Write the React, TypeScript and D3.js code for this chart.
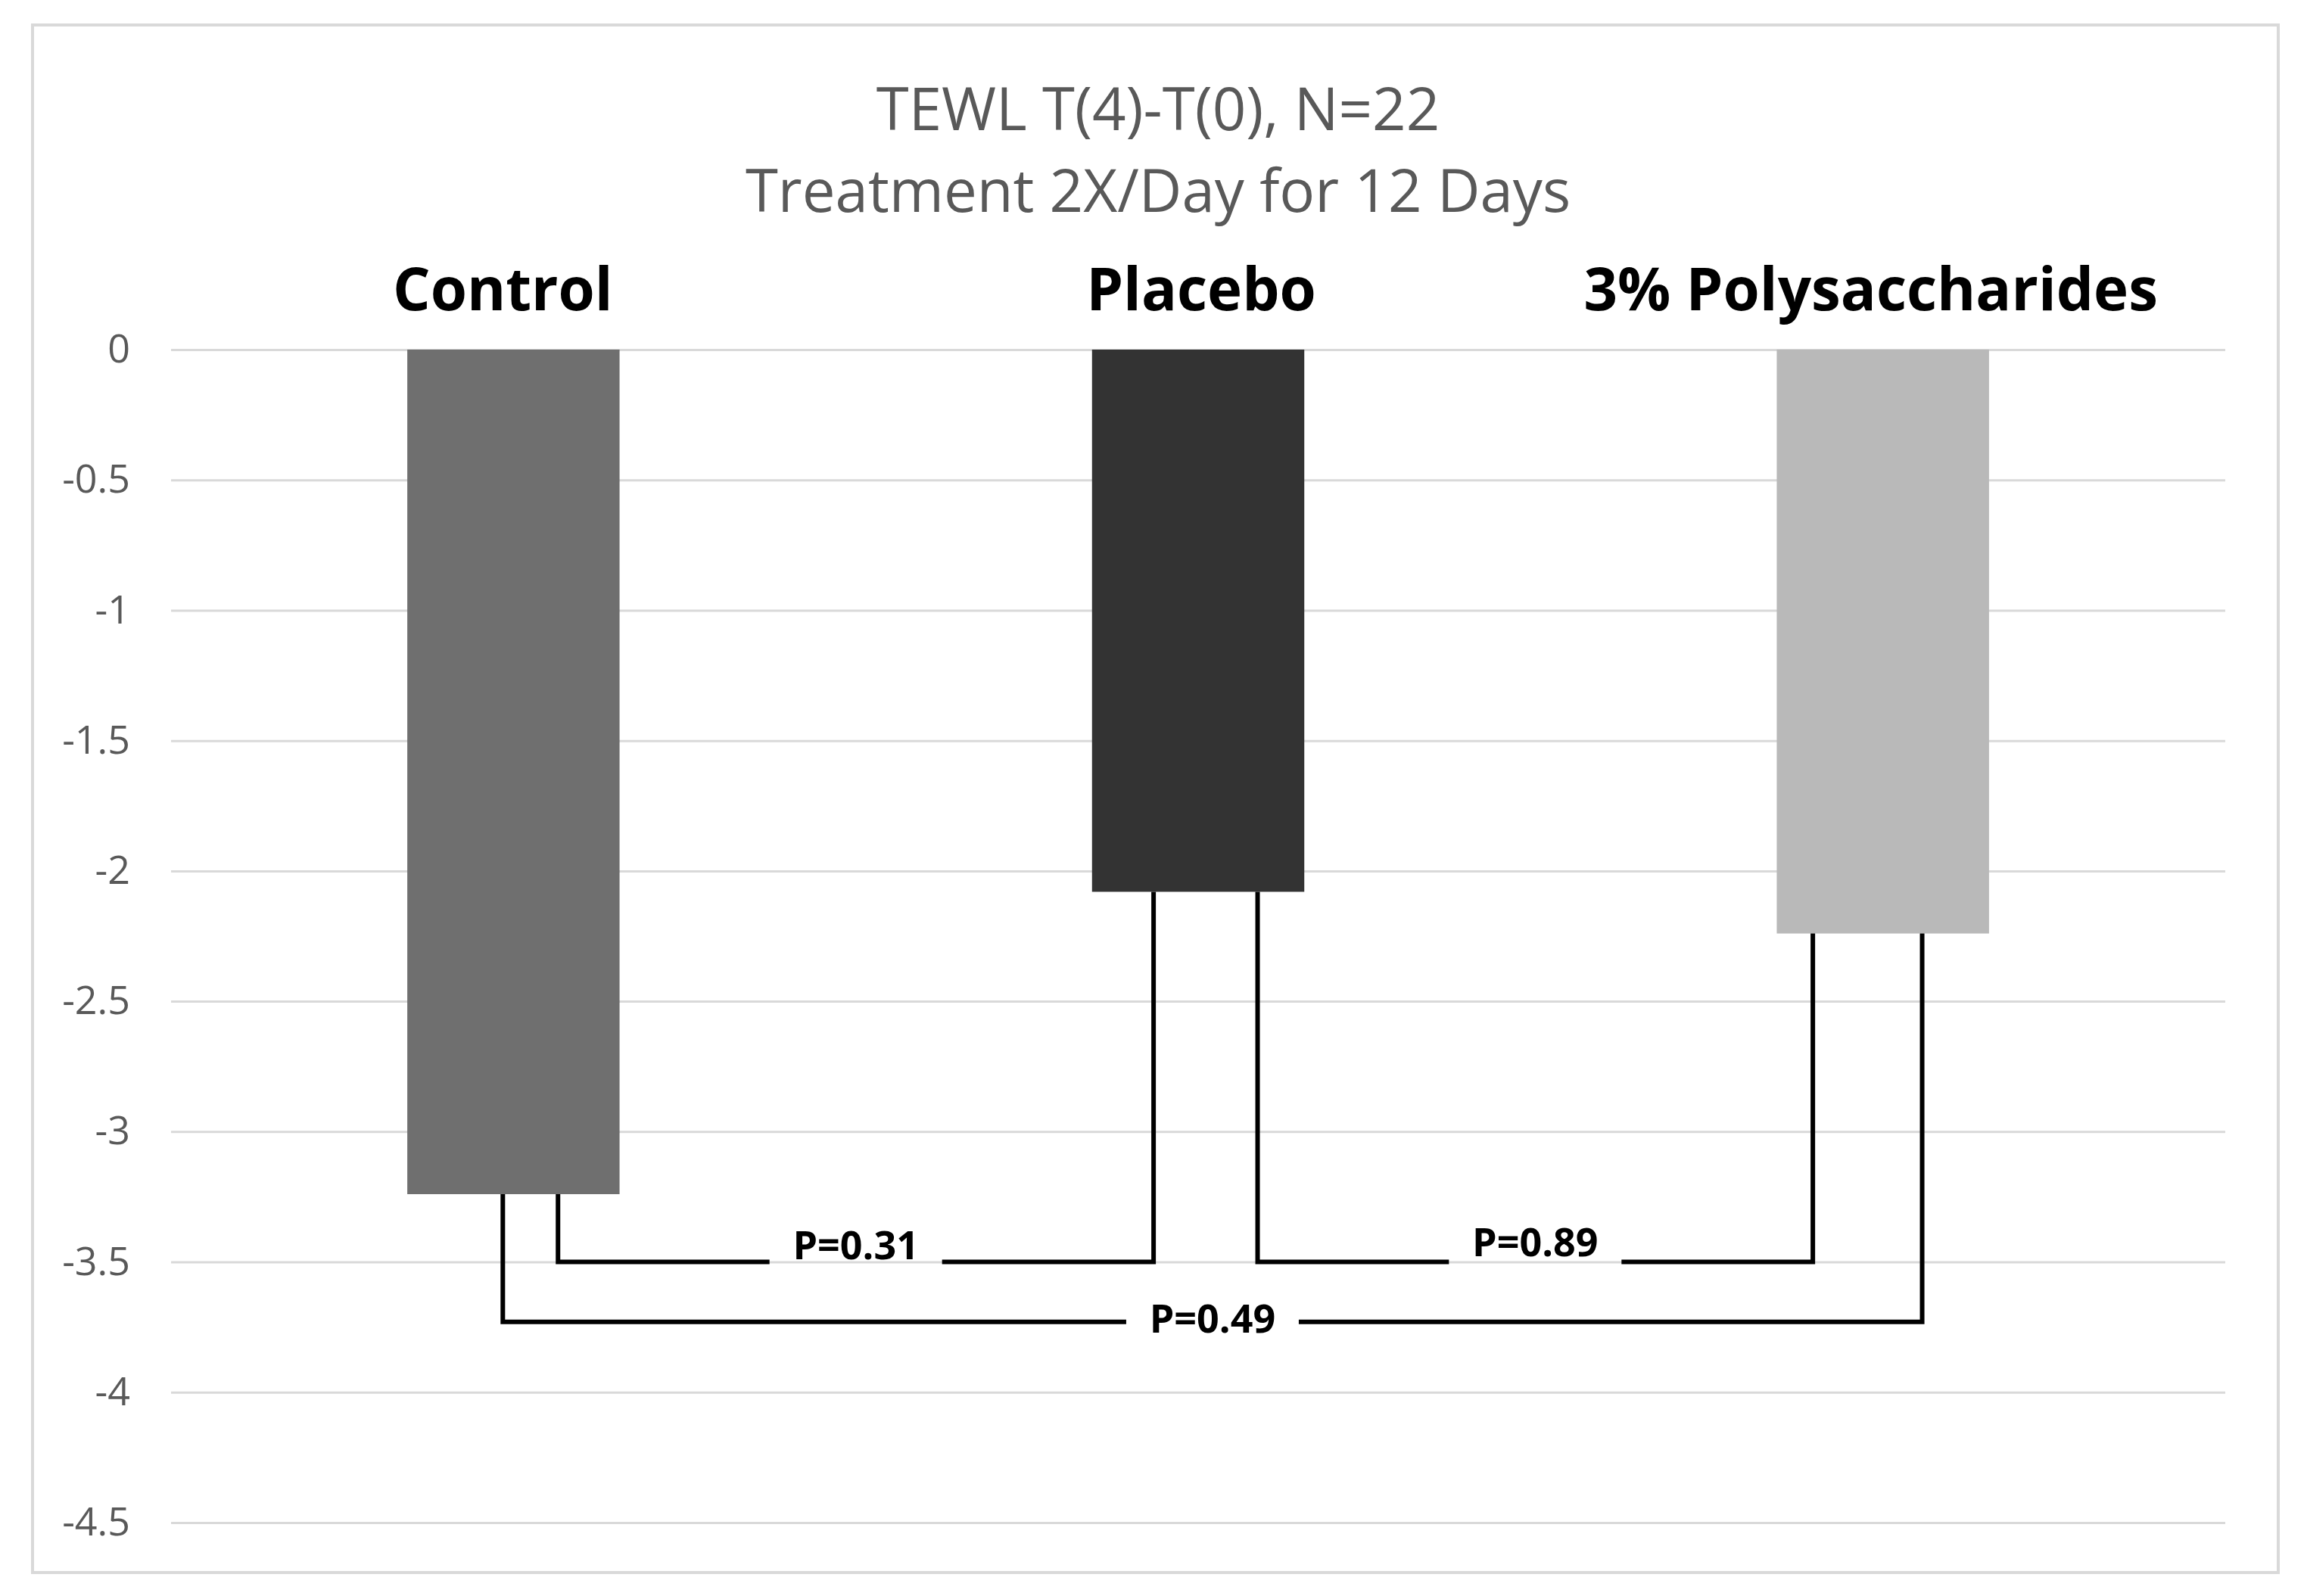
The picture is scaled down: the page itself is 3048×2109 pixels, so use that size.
import { useEffect, useRef } from "react";
import * as d3 from "d3";

const W = 3048;
const H = 2109;
const plot = { left: 226, right: 2940, top: 462, bottom: 2012 };

const CATEGORIES: string[] = ["Control", "Placebo", "3% Polysaccharides"];
const VALUES: number[] = [-3.24, -2.08, -2.24];
const COLORS: string[] = ["#6f6f6f", "#333333", "#b9b9b9"];
const Y_TICKS: number[] = [0, -0.5, -1, -1.5, -2, -2.5, -3, -3.5, -4, -4.5];
const TITLE_LINES: string[] = ["TEWL T(4)-T(0), N=22", "Treatment 2X/Day for 12 Days"];

// significance brackets: bar indices, level on the y axis, label
const COMP_FROM: number[] = [0, 1, 0];
const COMP_TO: number[] = [1, 2, 2];
const COMP_LEVEL: number[] = [-3.5, -3.5, -3.73];
const COMP_LABEL: string[] = ["P=0.31", "P=0.89", "P=0.49"];
// where each bracket leg leaves its bar (fraction of bar width)
const LEG_FROM: number[] = [0.71, 0.78, 0.45];
const LEG_TO: number[] = [0.29, 0.17, 0.685];
// label baseline shift from the bracket line (px)
const LABEL_DY: number[] = [-4, -8, 14];
// category label nudge (px), hand placed text boxes in the original
const CAT_DX: number[] = [-14, 4, -16];

const FONT = "'Open Sans', 'Noto Sans', sans-serif";

const App = () => {
  const svgRef = useRef<SVGSVGElement | null>(null);

  useEffect(() => {
    if (!svgRef.current) return;
    const svg = d3.select(svgRef.current);
    svg.selectAll("*").remove();

    const x = d3
      .scaleBand<string>()
      .domain(CATEGORIES)
      .range([plot.left, plot.right])
      .paddingInner(0.69)
      .paddingOuter(0.345);

    const y = d3.scaleLinear().domain([0, -4.5]).range([plot.top, plot.bottom]);

    svg
      .append("rect")
      .attr("x", 0)
      .attr("y", 0)
      .attr("width", W)
      .attr("height", H)
      .attr("fill", "#ffffff");

    // chart frame
    svg
      .append("rect")
      .attr("x", 43)
      .attr("y", 33)
      .attr("width", 2967)
      .attr("height", 2045)
      .attr("fill", "#ffffff")
      .attr("stroke", "#d9d9d9")
      .attr("stroke-width", 4);

    // title
    svg
      .append("g")
      .selectAll("text")
      .data(TITLE_LINES)
      .join("text")
      .attr("x", 1530)
      .attr("y", (_, i) => 172 + i * 108)
      .attr("text-anchor", "middle")
      .attr("font-family", FONT)
      .attr("font-size", 78)
      .attr("fill", "#595959")
      .text((d) => d);

    // y axis with gridlines
    const axis = svg
      .append("g")
      .attr("transform", `translate(${plot.left}, 0)`)
      .call(
        d3
          .axisLeft(y)
          .tickValues(Y_TICKS)
          .tickSize(-(plot.right - plot.left))
          .tickPadding(54)
          .tickFormat((d) => String(+d))
      );
    axis.select(".domain").remove();
    axis.selectAll(".tick line").attr("stroke", "#d9d9d9").attr("stroke-width", 3);
    axis
      .selectAll(".tick text")
      .attr("font-family", FONT)
      .attr("font-size", 52)
      .attr("fill", "#595959");

    // bars
    svg
      .append("g")
      .selectAll("rect")
      .data(VALUES)
      .join("rect")
      .attr("x", (_, i) => x(CATEGORIES[i]) as number)
      .attr("y", y(0))
      .attr("width", x.bandwidth())
      .attr("height", (d) => y(d) - y(0))
      .attr("fill", (_, i) => COLORS[i]);

    // category labels above bars
    svg
      .append("g")
      .selectAll("text")
      .data(CATEGORIES)
      .join("text")
      .attr("x", (d, i) => (x(d) as number) + x.bandwidth() / 2 + CAT_DX[i])
      .attr("y", 410)
      .attr("text-anchor", "middle")
      .attr("font-family", FONT)
      .attr("font-weight", 700)
      .attr("font-size", 78)
      .attr("fill", "#000000")
      .text((d) => d);

    // brackets
    const gap = 114;
    const br = svg.append("g").attr("fill", "none").attr("stroke", "#000").attr("stroke-width", 6);
    COMP_LABEL.forEach((label, i) => {
      const a = COMP_FROM[i];
      const b = COMP_TO[i];
      const xa = (x(CATEGORIES[a]) as number) + x.bandwidth() * LEG_FROM[i];
      const xb = (x(CATEGORIES[b]) as number) + x.bandwidth() * LEG_TO[i];
      const yl = y(COMP_LEVEL[i]);
      const mid = (xa + xb) / 2;
      br.append("path")
        .attr("stroke-linejoin", "miter")
        .attr("d", `M${xa},${y(VALUES[a])}V${yl}H${mid - gap}`);
      br.append("path")
        .attr("stroke-linejoin", "miter")
        .attr("d", `M${mid + gap},${yl}H${xb}V${y(VALUES[b])}`);
      svg
        .append("text")
        .attr("x", mid)
        .attr("y", yl + LABEL_DY[i])
        .attr("text-anchor", "middle")
        .attr("font-family", FONT)
        .attr("font-weight", 700)
        .attr("font-size", 52)
        .attr("fill", "#000")
        .text(label);
    });
  }, []);

  return (
    <div style={{ position: "absolute", left: 0, top: 0 }}>
      <svg ref={svgRef} width={W} height={H} style={{ display: "block" }} />
    </div>
  );
};

export default App;
